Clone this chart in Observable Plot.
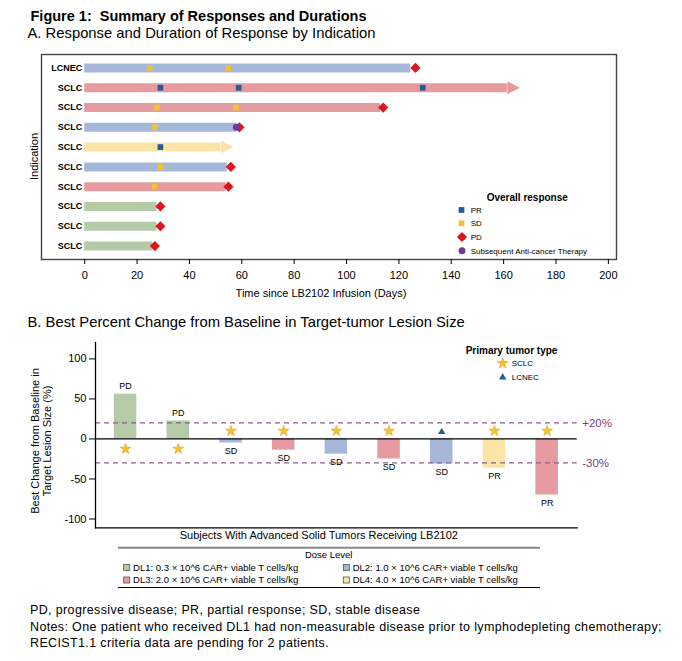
<!DOCTYPE html>
<html><head><meta charset="utf-8">
<script src="https://cdn.jsdelivr.net/npm/d3@7"></script>
<script src="https://cdn.jsdelivr.net/npm/@observablehq/plot@0.6"></script>
<style>
body{margin:0;background:#fff;}
#page{position:relative;width:682px;height:661px;overflow:hidden;background:#fff;}
#page svg{position:absolute;left:0;}
</style></head><body><div id="page"></div>
<script>
const FONT = "'Liberation Sans', Arial, sans-serif";

// ---------- Panel A data (swimmer plot) ----------
const rowIds = ["A1","A2","A3","A4","A5","A6","A7","A8","A9","A10"];
const rowIndication = ["LCNEC","SCLC","SCLC","SCLC","SCLC","SCLC","SCLC","SCLC","SCLC","SCLC"];
const rowDose = ["DL2","DL3","DL3","DL2","DL4","DL2","DL3","DL1","DL1","DL1"];
const rowEnd = [124.5,161.4,113,58,52,54.5,54,27.6,27.6,26];
const rowOngoing = [false,true,false,false,true,false,false,false,false,false];
const evRow  = [0,0,0, 1,1,1, 2,2,2, 3,3,3, 4, 5,5, 6,6, 7, 8, 9];
const evDay  = [24.8,54.8,126.3, 28.9,58.8,129.1, 27.6,57.8,114.0, 26.7,57.9,59.1, 28.9, 28.9,55.8, 26.7,54.9, 28.9,28.9,26.8];
const evType = ["SD","SD","PD", "PR","PR","PR", "SD","SD","PD", "SD","SAT","PD", "PR", "SD","PD", "SD","PD", "PD","PD","PD"];
const xTicksA = [0,20,40,60,80,100,120,140,160,180,200];

// ---------- Panel B data (waterfall) ----------
const subjB = ["B1","B2","B3","B4","B5","B6","B7","B8","B9"];
const bestChange = [56,22.5,-5,-14,-19,-25,-31.3,-36.5,-70];
const doseB = ["DL1","DL1","DL2","DL3","DL2","DL3","DL2","DL4","DL3"];
const respB = ["PD","PD","SD","SD","SD","SD","SD","PR","PR"];
const tumorB = ["SCLC","SCLC","SCLC","SCLC","SCLC","SCLC","LCNEC","SCLC","SCLC"];
const yTicksB = [100,50,0,-50,-100];
const cutoffs = [20,-30];
const cutoffLabels = ["+20%","-30%"];

// ---------- Shared ----------
const doseLevels = ["DL1","DL2","DL3","DL4"];
const doseLabels = ["DL1: 0.3 \u00d7 10^6 CAR+ viable T cells/kg","DL2: 1.0 \u00d7 10^6 CAR+ viable T cells/kg",
                    "DL3: 2.0 \u00d7 10^6 CAR+ viable T cells/kg","DL4: 4.0 \u00d7 10^6 CAR+ viable T cells/kg"];
const doseColors = ["#b3cba6","#a6b8da","#e59b9f","#fbe4a6"];
const respTypes = ["PR","SD","PD","SAT"];
const respLabels = ["PR","SD","PD","Subsequent Anti-cancer Therapy"];
const respColors = {PR:"#1f5c9c", SD:"#f3c232", PD:"#e0141c", SAT:"#6b3d9e"};
const tumorTypes = ["SCLC","LCNEC"];
const footnotes = [
  "PD, progressive disease; PR, partial response; SD, stable disease",
  "Notes: One patient who received DL1 had non-measurable disease prior to lymphodepleting chemotherapy;",
  "RECIST1.1 criteria data are pending for 2 patients."
];

const page = document.getElementById("page");
const style = {fontFamily: FONT, fontSize: "11px", color: "#000", background: "transparent", overflow: "visible"};

// ---------- Panel A ----------
const rowsA = rowIds.map((id,i)=>({id, ind: rowIndication[i], dose: rowDose[i], end: rowEnd[i], ongoing: rowOngoing[i]}));
const eventsA = evRow.map((r,i)=>({id: rowIds[r], day: evDay[i], type: evType[i]}));
const arrowHead = {draw(ctx){ ctx.moveTo(0,-6.4); ctx.lineTo(12.6,0); ctx.lineTo(0,6.4); ctx.closePath(); }};

const plotA = Plot.plot({
  width: 682, height: 245, marginLeft: 41, marginRight: 66, marginTop: 8, marginBottom: 32,
  x: {domain: [-16.5, 203.1]},
  y: {type: "point", domain: rowIds, padding: 0.68, round: false},
  color: {domain: doseLevels, range: doseColors},
  style,
  marks: [
    Plot.ruleY(rowsA, {y: "id", x1: 0, x2: "end", stroke: "dose", strokeWidth: 9}),
    Plot.dot(rowsA.filter(d=>d.ongoing), {x: "end", y: "id", symbol: arrowHead, fill: "dose"}),
    Plot.dot(eventsA.filter(d=>d.type==="PR"), {x: "day", y: "id", symbol: "square", r: 3.2, fill: respColors.PR}),
    Plot.dot(eventsA.filter(d=>d.type==="SD"), {x: "day", y: "id", symbol: "square", r: 3.2, fill: respColors.SD}),
    Plot.dot(eventsA.filter(d=>d.type==="PD"), {x: "day", y: "id", symbol: "diamond2", r: 4.6, fill: respColors.PD}),
    Plot.dot(eventsA.filter(d=>d.type==="SAT"), {x: "day", y: "id", symbol: "circle", r: 3.5, fill: respColors.SAT}),
    Plot.frame({stroke: "#444", strokeWidth: 1.4}),
    Plot.axisX({ticks: xTicksA, tickSize: 5, tickPadding: 7, label: null, fontSize: 11}),
    Plot.axisY({tickSize: 0, tickPadding: 0, dx: 40.7, label: null, fontSize: 9, fontWeight: "bold",
                tickFormat: id => rowIndication[rowIds.indexOf(id)]})
  ]
});
plotA.style.top = "46px";
page.appendChild(plotA);

// ---------- Panel B ----------
const rowsB = subjB.map((id,i)=>({id, value: bestChange[i], dose: doseB[i], resp: respB[i], tumor: tumorB[i]}));
const plotB = Plot.plot({
  width: 682, height: 210, marginLeft: 95, marginRight: 105.3, marginTop: 12, marginBottom: 12.7,
  x: {type: "band", domain: subjB, paddingInner: 0.573, paddingOuter: 0.357, round: false},
  y: {domain: [-111, 120.5]},
  color: {domain: doseLevels, range: doseColors},
  style,
  marks: [
    Plot.barY(rowsB, {x: "id", y: "value", fill: "dose"}),
    Plot.ruleY(cutoffs, {stroke: "#8d5f8d", strokeDasharray: "5,4", strokeWidth: 1.2}),
    Plot.ruleY([0], {stroke: "#000", strokeWidth: 1.3}),
    Plot.text(cutoffs, {y: d=>d, text: (d,i)=>cutoffLabels[i], frameAnchor: "right", textAnchor: "start", dx: 5, fill: "#7d3f7d", fontSize: 11.5}),
    Plot.text(rowsB.filter(d=>d.value>0), {x: "id", y: "value", text: "resp", dy: -8, fontSize: 9}),
    Plot.text(rowsB.filter(d=>d.value<0), {x: "id", y: "value", text: "resp", dy: 8, fontSize: 9}),
    Plot.dot(rowsB.filter(d=>d.tumor==="SCLC" && d.value>0), {x: "id", y: 0, dy: 10, symbol: "star", r: 3.4, fill: "#f6c22d", stroke: "#e0a21a", strokeWidth: 0.6}),
    Plot.dot(rowsB.filter(d=>d.tumor==="SCLC" && d.value<0), {x: "id", y: 0, dy: -8, symbol: "star", r: 3.4, fill: "#f6c22d", stroke: "#e0a21a", strokeWidth: 0.6}),
    Plot.dot(rowsB.filter(d=>d.tumor==="LCNEC"), {x: "id", y: 0, dy: -7, symbol: "triangle", r: 2.7, fill: "#1f5f8f"}),
    Plot.frame({anchor: "left", stroke: "#000", strokeWidth: 1.3}),
    Plot.frame({anchor: "bottom", stroke: "#000", strokeWidth: 1.3}),
    Plot.axisY({ticks: yTicksB, tickSize: 6, tickPadding: 3, tickFormat: d=>String(d), label: null, fontSize: 11}),
    Plot.axisX({ticks: [], label: null})
  ]
});
plotB.style.top = "330px";
page.appendChild(plotB);

// ---------- Overlay text & legends ----------
const ov = d3.create("svg").attr("width", 682).attr("height", 661)
  .style("position","absolute").style("left","0").style("top","0").style("font-family", FONT);
function txt(s, x, y, o={}) {
  const t = ov.append("text").attr("x", x).attr("y", y).text(s)
    .attr("font-size", o.size || 11).attr("font-weight", o.weight || "normal")
    .attr("text-anchor", o.anchor || "start").attr("fill", o.fill || "#000");
  if (o.rotate) t.attr("transform", `rotate(${o.rotate},${x},${y})`);
  if (o.pre) t.style("white-space", "pre");
  if (o.ls) t.attr("letter-spacing", o.ls);
  return t;
}
function sym(type, size, x, y, fill) {
  ov.append("path").attr("d", d3.symbol(type, size)()).attr("transform", `translate(${x},${y})`).attr("fill", fill);
}

txt("Figure 1:  Summary of Responses and Durations", 30.5, 21, {size: 14.5, weight: "bold", pre: true});
txt("A. Response and Duration of Response by Indication", 27.5, 37.5, {size: 14.8});
txt("Indication", 38, 156.5, {size: 11, anchor: "middle", rotate: -90});
txt("Time since LB2102 Infusion (Days)", 321, 297, {size: 11, anchor: "middle"});

// Overall response legend
txt("Overall response", 486.7, 201.3, {size: 10, weight: "bold"});
const respY = [210, 223.3, 237, 250.7];
respTypes.forEach((t,i) => {
  const y = respY[i];
  if (t === "PR" || t === "SD") sym(d3.symbolSquare, 32.5, 461.5, y, respColors[t]);
  else if (t === "PD") sym(d3.symbolDiamond2, Math.PI*4.6*4.6, 462, y, respColors[t]);
  else sym(d3.symbolCircle, Math.PI*3.5*3.5, 462, y, respColors[t]);
  txt(respLabels[i], 470.7, y + 3, {size: 8});
});

txt("B. Best Percent Change from Baseline in Target-tumor Lesion Size", 27.5, 327, {size: 14.8});
txt("Best Change from Baseline in", 39, 441, {size: 11, anchor: "middle", rotate: -90});
txt("Target Lesion Size (%)", 51, 441, {size: 11, anchor: "middle", rotate: -90});
txt("Subjects With Advanced Solid Tumors Receiving LB2102", 318.8, 539, {size: 11, anchor: "middle"});

// Primary tumor type legend
txt("Primary tumor type", 465.7, 353.6, {size: 10, weight: "bold"});
ov.append("path").attr("d", d3.symbol(d3.symbolStar, Math.PI*3.4*3.4)()).attr("transform","translate(502.7,363.3)")
  .attr("fill","#f6c22d").attr("stroke","#e0a21a").attr("stroke-width",0.6);
txt(tumorTypes[0], 511.7, 366.3, {size: 8});
sym(d3.symbolTriangle, Math.PI*2.7*2.7, 502.7, 377.3, "#1f5f8f");
txt(tumorTypes[1], 511.7, 380.3, {size: 8});

// Dose level legend
ov.append("line").attr("x1",118).attr("x2",540).attr("y1",547.7).attr("y2",547.7).attr("stroke","#888").attr("stroke-width",2);
ov.append("line").attr("x1",118).attr("x2",540).attr("y1",587.5).attr("y2",587.5).attr("stroke","#000").attr("stroke-width",1);
txt("Dose Level", 328.7, 558, {size: 9.5, anchor: "middle"});
const dosePos = [[123.7,567.5],[343.3,567.5],[123.7,580],[343.3,580]];
doseLevels.forEach((d,i) => {
  const [x,y] = dosePos[i];
  ov.append("rect").attr("x",x).attr("y",y-3).attr("width",6).attr("height",6)
    .attr("fill",doseColors[i]).attr("stroke","#555").attr("stroke-width",0.8);
  txt(doseLabels[i], x + 9.4, y + 3.4, {size: 9.5});
});

// Footnotes
[614, 630.5, 647].forEach((y,i) => txt(footnotes[i], 30, y, {size: 12.5, ls: 0.36}));

page.appendChild(ov.node());
</script></body></html>
